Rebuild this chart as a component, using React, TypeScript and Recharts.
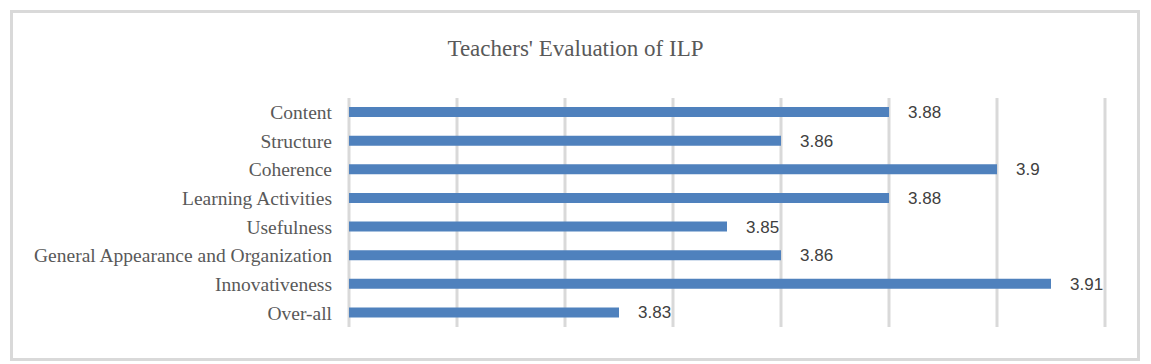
import { BarChart, Bar, XAxis, YAxis, CartesianGrid, LabelList } from 'recharts';

const categories = [
  'Content',
  'Structure',
  'Coherence',
  'Learning Activities',
  'Usefulness',
  'General Appearance and Organization',
  'Innovativeness',
  'Over-all',
];
const scores = [3.88, 3.86, 3.9, 3.88, 3.85, 3.86, 3.91, 3.83];
const scoreTicks = [3.78, 3.8, 3.82, 3.84, 3.86, 3.88, 3.9, 3.92];

const data = categories.map((name, i) => ({ name, value: scores[i] }));

export default function App() {
  return (
    <div style={{ position: 'absolute', left: 0, top: 0, width: 1151, height: 364, background: '#fff' }}>
      <style>{'body{margin:0}'}</style>
      <div
        style={{
          position: 'absolute',
          left: 10,
          top: 10,
          width: 1130,
          height: 351,
          border: '3px solid #d9d9d9',
          boxSizing: 'border-box',
        }}
      />
      <div
        style={{
          position: 'absolute',
          left: 0,
          top: 37,
          width: 1151,
          textAlign: 'center',
          fontFamily: '"Liberation Serif", serif',
          fontSize: 23,
          lineHeight: '23px',
          color: '#595959',
        }}
      >
        Teachers' Evaluation of ILP
      </div>
      <div style={{ position: 'absolute', left: 0, top: 0 }}>
        <BarChart
          width={1151}
          height={364}
          data={data}
          layout="vertical"
          margin={{ top: 98, right: 46, bottom: 37, left: 0 }}
        >
          <CartesianGrid vertical horizontal={false} stroke="#d9d9d9" strokeWidth={3} />
          <XAxis
            type="number"
            domain={[3.78, 3.92]}
            ticks={scoreTicks}
            allowDataOverflow
            hide
          />
          <YAxis
            type="category"
            dataKey="name"
            width={349}
            axisLine={false}
            tickLine={false}
            tickSize={0}
            tickMargin={17}
            interval={0}
            tick={{ fill: '#595959', fontSize: 19.5, fontFamily: '"Liberation Serif", serif' }}
          />
          <Bar dataKey="value" fill="#4f81bd" barSize={10} isAnimationActive={false}>
            <LabelList
              dataKey="value"
              position="right"
              offset={19}
              fill="#404040"
              fontSize={17}
              fontFamily='"Liberation Sans", Arial, sans-serif'
            />
          </Bar>
        </BarChart>
      </div>
    </div>
  );
}
